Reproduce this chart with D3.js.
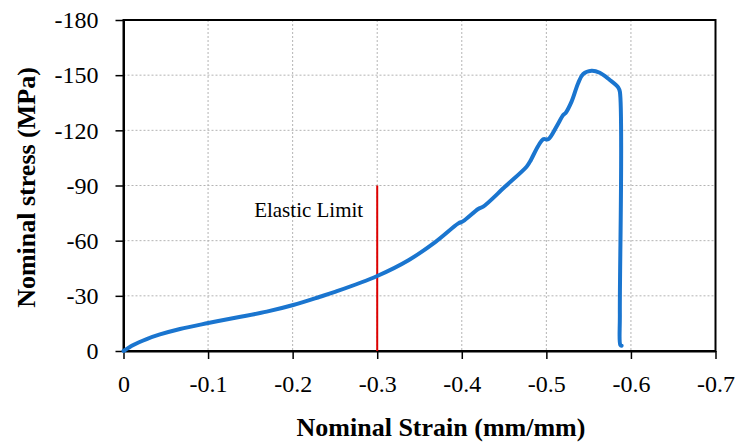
<!DOCTYPE html>
<html>
<head>
<meta charset="utf-8">
<script src="https://cdn.jsdelivr.net/npm/d3@7"></script>
<style>
  html, body { margin: 0; padding: 0; background: #fff; }
  svg { display: block; font-family: "Liberation Serif", "Times New Roman", serif; }
</style>
</head>
<body>
<svg id="chart" width="738" height="442"></svg>
<script>
// Compression test: nominal strain (mm/mm) vs nominal stress (MPa)
const strain = [0, -0.0116, -0.0274, -0.0431, -0.0668, -0.1002, -0.1338, -0.1693, -0.2007, -0.2323,
  -0.251, -0.300, -0.3375, -0.369, -0.396, -0.4017, -0.4194, -0.4253, -0.451, -0.4766, -0.4805,
  -0.4962, -0.5021, -0.512, -0.5199, -0.523, -0.5298, -0.5376, -0.5435, -0.5534, -0.5632,
  -0.575, -0.5849, -0.5869, -0.5869, -0.5875, -0.589];
const stress = [0, -3.3, -6.5, -9.0, -12.0, -15.2, -18.2, -21.4, -25.0, -29.5,
  -32.3, -40.8, -49.5, -59.4, -69.4, -70.6, -77.2, -78.5, -89.3, -100.2, -102.9,
  -115.1, -115.1, -122, -128.3, -129.6, -135.6, -145.6, -150.6, -152.4, -151.3,
  -147.4, -143.4, -141, -20, -3.3, -2.9];

const xTicks = [0, -0.1, -0.2, -0.3, -0.4, -0.5, -0.6, -0.7];
const yTicks = [0, -30, -60, -90, -120, -150, -180];

const elasticLimitStrain = -0.3;
const elasticLimitTop = -90;
const elasticLabel = "Elastic Limit";
const xTitle = "Nominal Strain (mm/mm)";
const yTitle = "Nominal stress (MPa)";

(function draw() {
  const svg = d3.select("#chart");
  const pLeft = 123.5, pRight = 715.5, pTop = 20, pBottom = 351;

  const x = d3.scaleLinear().domain([0, -0.7]).range([pLeft, pRight]);
  const y = d3.scaleLinear().domain([0, -180]).range([pBottom, pTop]);

  const fmt = d => d === 0 ? "0" : String(d);

  // dotted grid
  const grid = svg.append("g").attr("stroke", "#b4b4b4").attr("stroke-width", 1)
    .attr("stroke-dasharray", "2,2").attr("fill", "none");
  grid.selectAll("line.v").data(xTicks.slice(1, -1)).join("line").attr("class", "v")
    .attr("x1", d => x(d)).attr("x2", d => x(d)).attr("y1", pTop).attr("y2", pBottom);
  grid.selectAll("line.h").data(yTicks.slice(1, -1)).join("line").attr("class", "h")
    .attr("x1", pLeft).attr("x2", pRight).attr("y1", d => y(d)).attr("y2", d => y(d));

  // axes
  const xAxis = svg.append("g").attr("transform", `translate(0,${pBottom})`)
    .call(d3.axisBottom(x).tickValues(xTicks).tickFormat(fmt).tickSize(8).tickSizeOuter(0).tickPadding(15.5));
  const yAxis = svg.append("g").attr("transform", `translate(${pLeft},0)`)
    .call(d3.axisLeft(y).tickValues(yTicks).tickFormat(fmt).tickSize(8).tickSizeOuter(0).tickPadding(17));

  [xAxis, yAxis].forEach(g => {
    g.selectAll("text").attr("font-size", 24).attr("fill", "#000")
      .attr("font-family", "Liberation Serif, Times New Roman, serif");
    g.selectAll("line").attr("stroke", "#000").attr("stroke-width", 1.5);
    g.select(".domain").attr("stroke", "#000").attr("stroke-width", 2);
  });

  // frame
  svg.append("rect").attr("x", pLeft).attr("y", pTop)
    .attr("width", pRight - pLeft).attr("height", pBottom - pTop)
    .attr("fill", "none").attr("stroke", "#000").attr("stroke-width", 2);

  // elastic limit marker
  svg.append("line")
    .attr("x1", x(elasticLimitStrain)).attr("x2", x(elasticLimitStrain))
    .attr("y1", y(0)).attr("y2", y(elasticLimitTop))
    .attr("stroke", "#dd0000").attr("stroke-width", 2);
  svg.append("text").attr("x", x(elasticLimitStrain) - 14).attr("y", 217)
    .attr("text-anchor", "end").attr("font-size", 21).attr("fill", "#000")
    .text(elasticLabel);

  // stress-strain curve
  const pts = strain.map((s, i) => [s, stress[i]]);
  svg.append("path").datum(pts)
    .attr("fill", "none").attr("stroke", "#1a75cf").attr("stroke-width", 4)
    .attr("stroke-linejoin", "round").attr("stroke-linecap", "round")
    .attr("d", d3.line().curve(d3.curveCatmullRom.alpha(0.5)).x(d => x(d[0])).y(d => y(d[1])));

  // axis titles
  svg.append("text").attr("x", 441).attr("y", 436)
    .attr("text-anchor", "middle").attr("font-size", 26).attr("font-weight", "bold")
    .text(xTitle);
  svg.append("text").attr("transform", `translate(35,${(pTop + pBottom) / 2 + 2}) rotate(-90)`)
    .attr("text-anchor", "middle").attr("font-size", 26).attr("font-weight", "bold")
    .text(yTitle);
})();
</script>
</body>
</html>
